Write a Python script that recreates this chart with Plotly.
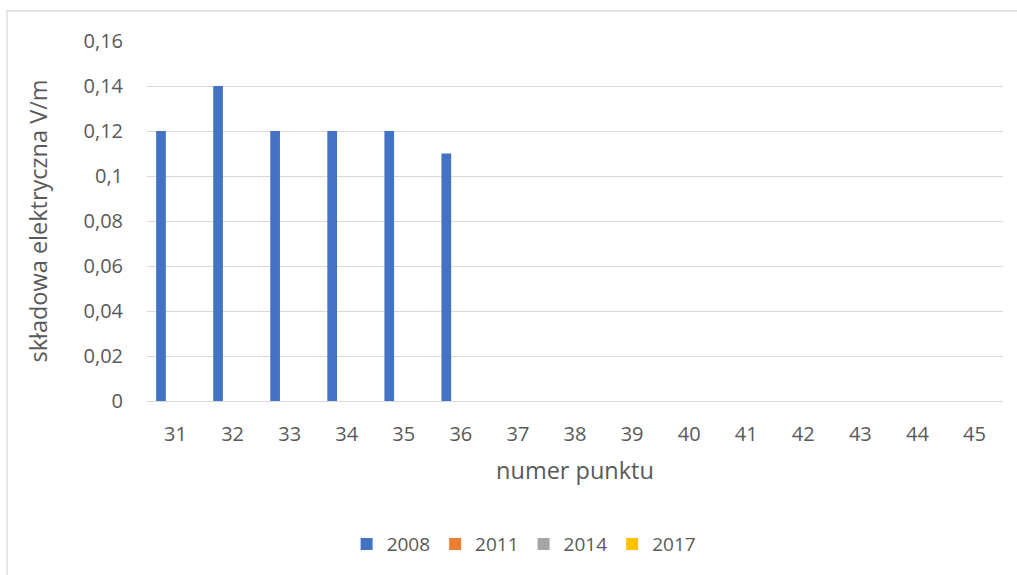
import plotly.graph_objects as go

# Measurement points and electric field component per survey year
punkty = [str(n) for n in range(31, 46)]
wartosci_2008 = [0.12, 0.14, 0.12, 0.12, 0.12, 0.11, None, None, None, None, None, None, None, None, None]
wartosci_2011 = [None] * 15
wartosci_2014 = [None] * 15
wartosci_2017 = [None] * 15

lata = ["2008", "2011", "2014", "2017"]
kolory = ["#4472C4", "#ED7D31", "#A5A5A5", "#FFC000"]

y_ticks = [0, 0.02, 0.04, 0.06, 0.08, 0.1, 0.12, 0.14, 0.16]
y_tick_labels = ["0", "0,02", "0,04", "0,06", "0,08", "0,1", "0,12", "0,14", "0,16"]

font_family = "Open Sans, Noto Sans, sans-serif"
text_color = "#595959"

fig = go.Figure()
for rok, wartosci, kolor in zip(lata, [wartosci_2008, wartosci_2011, wartosci_2014, wartosci_2017], kolory):
    fig.add_trace(go.Bar(x=punkty, y=wartosci, name=rok, marker=dict(color=kolor, line=dict(width=0))))

fig.update_layout(
    width=1017,
    height=575,
    barmode="group",
    bargap=0.32,
    bargroupgap=0,
    plot_bgcolor="white",
    paper_bgcolor="white",
    margin=dict(l=147, r=14, t=41, b=174),
    font=dict(family=font_family, size=20, color=text_color),
    showlegend=True,
    legend=dict(
        orientation="h",
        x=0.44,
        xanchor="center",
        y=-0.345,
        yanchor="top",
        font=dict(size=19, color=text_color),
        traceorder="normal",
    ),
    xaxis=dict(
        type="category",
        showgrid=False,
        showline=False,
        zeroline=False,
        ticks="",
        ticklabelstandoff=19,
        tickfont=dict(size=20, color=text_color),
        title=dict(text="numer punktu", font=dict(size=23.5, color=text_color), standoff=16),
    ),
    yaxis=dict(
        range=[0, 0.16],
        tickvals=y_ticks,
        ticktext=y_tick_labels,
        showgrid=True,
        gridcolor="#D9D9D9",
        gridwidth=1.3,
        zeroline=True,
        zerolinecolor="#D9D9D9",
        zerolinewidth=1.3,
        showline=False,
        ticks="",
        ticklabelstandoff=23,
        tickfont=dict(size=20, color=text_color),
        title=dict(text="składowa elektryczna V/m", font=dict(size=23.5, color=text_color), standoff=29),
    ),
)

# Chart frame
fig.add_shape(
    type="rect",
    xref="paper", yref="paper",
    x0=(7 - 147) / 856, x1=(1030 - 147) / 856,
    y0=(401 - 590) / 360, y1=(401 - 11) / 360,
    line=dict(color="#D9D9D9", width=1.3),
    fillcolor="rgba(0,0,0,0)",
    layer="below",
)

fig.write_html("out.html")
